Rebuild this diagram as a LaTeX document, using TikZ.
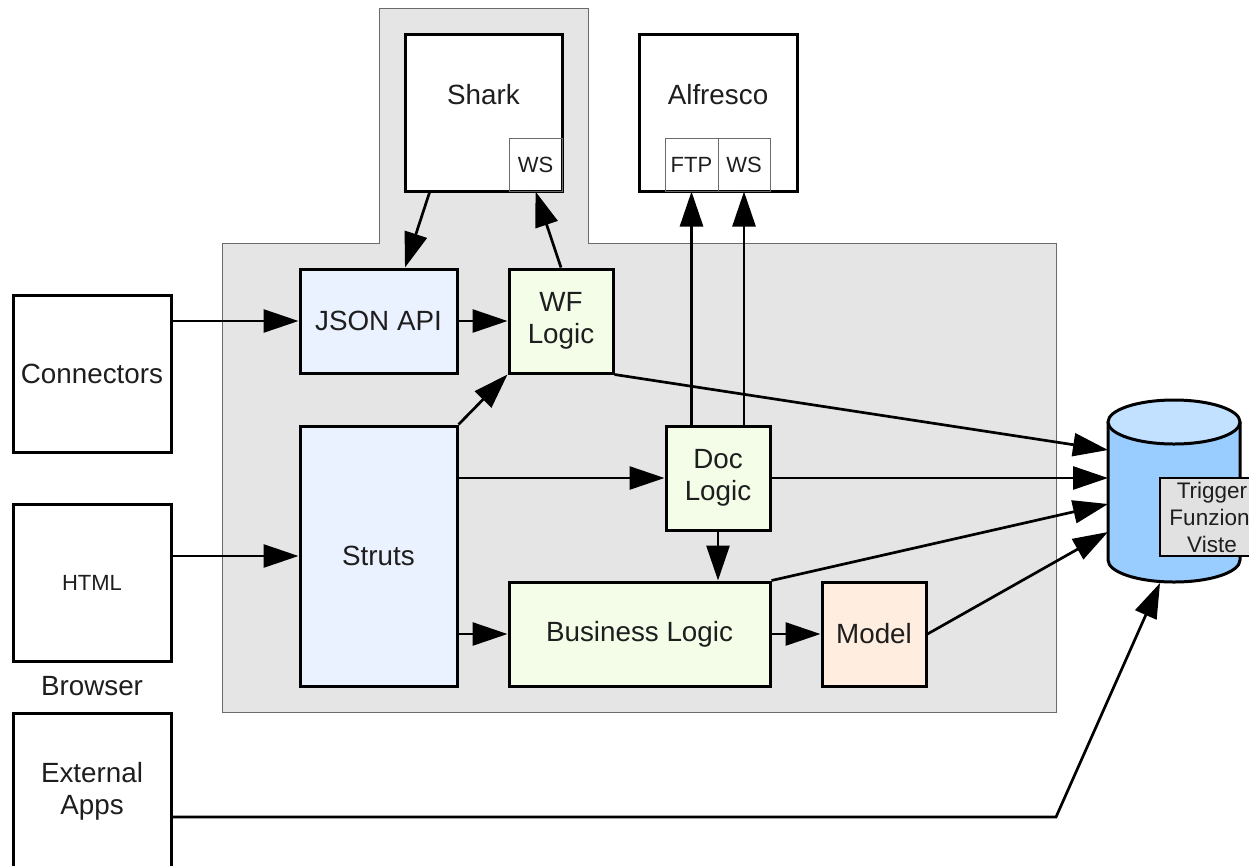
\documentclass[tikz,border=0pt]{standalone}
\usepackage{fontspec}
\setmainfont{Liberation Sans}
\usetikzlibrary{arrows.meta,calc}
\definecolor{txt}{HTML}{1E1E1E}
\definecolor{regionfill}{HTML}{E5E5E5}
\definecolor{regiondraw}{HTML}{6B6B6B}
\definecolor{bluefill}{HTML}{EBF2FF}
\definecolor{greenfill}{HTML}{F3FDE8}
\definecolor{peachfill}{HTML}{FFEDE0}
\definecolor{dbbody}{HTML}{99CCFF}
\definecolor{dbtop}{HTML}{C2E0FF}
\definecolor{trigfill}{HTML}{E1E1E1}
\definecolor{subdraw}{HTML}{6B6B6B}
\tikzset{
  box/.style={draw=black, line width=3pt, inner sep=0pt, align=center, text=txt,
    font=\fontsize{27.8}{32}\selectfont},
  smallbox/.style={box, font=\fontsize{22}{26}\selectfont},
  subbox/.style={draw=subdraw, line width=1pt, inner sep=0pt, text=txt,
    font=\fontsize{22}{26}\selectfont},
  lbl/.style={inner sep=0pt, text=txt, align=center, font=\fontsize{27.8}{32}\selectfont},
  arr/.style={line width=2.7pt, -{Triangle[length=35pt,width=23pt]}},
  trigbox/.style={draw=black, line width=2pt, fill=trigfill, inner sep=0pt, align=center,
    text=txt, font=\fontsize{22.5}{27}\selectfont}
}
\begin{document}
\begin{tikzpicture}[x=1pt,y=-1pt]
\useasboundingbox[fill=white] (0,0) rectangle (1249,865);

% gray container region
\filldraw[fill=regionfill, draw=regiondraw, line width=1pt]
  (222,243) -- (379,243) -- (379,8) -- (588,8) -- (588,243) -- (1056,243)
  -- (1056,712) -- (222,712) -- cycle;

% left boxes
\node[box, fill=white, minimum width=158pt, minimum height=157pt] (conn) at (92,373.5) {Connectors};
\node[smallbox, fill=white, minimum width=158pt, minimum height=157pt] (html) at (92,582.5) {HTML};
\node[lbl] (browser) at (92,686) {Browser};
\node[box, fill=white, minimum width=158pt, minimum height=156pt] (ext) at (92,791) {External\\Apps};

% Shark
\node[box, fill=white, minimum width=157pt, minimum height=157pt] (shark) at (483.5,112.5) {};
\node[lbl] (sharklbl) at (483.5,95) {Shark};
\node[subbox, minimum width=53pt, minimum height=53pt] (shws) at (535.5,164.5) {WS};

% Alfresco
\node[box, fill=white, minimum width=158pt, minimum height=157pt] (alf) at (718,112.5) {};
\node[lbl] (alflbl) at (718,95) {Alfresco};
\node[subbox, minimum width=53pt, minimum height=53pt] (ftp) at (691.5,164.5) {FTP};
\node[subbox, minimum width=52pt, minimum height=53pt] (alws) at (744,164.5) {WS};

% inner boxes
\node[box, fill=bluefill, minimum width=157pt, minimum height=104pt] (json) at (378.5,321) {JSON API};
\node[box, fill=greenfill, minimum width=104pt, minimum height=104pt] (wf) at (561,321) {WF\\Logic};
\node[box, fill=bluefill, minimum width=157pt, minimum height=260pt] (struts) at (378.5,556) {Struts};
\node[box, fill=greenfill, minimum width=104pt, minimum height=104pt] (doc) at (718,478) {Doc\\Logic};
\node[box, fill=greenfill, minimum width=261pt, minimum height=104pt] (biz) at (639.5,634) {Business Logic};
\node[box, fill=peachfill, minimum width=104pt, minimum height=104pt] (model) at (874,634) {Model};

% database cylinder
\path[fill=dbbody] (1108,422) -- (1108,560) arc[start angle=180,end angle=0,x radius=66,y radius=22] -- (1240,422) -- cycle;
\draw[line width=3pt] (1108,422) -- (1108,560) arc[start angle=180,end angle=0,x radius=66,y radius=22] -- (1240,422);
\draw[line width=3pt, fill=dbtop] (1174,422) ellipse[x radius=66,y radius=22];
\node[trigbox, minimum width=104pt, minimum height=78pt] (trig) at (1212,517) {Trigger\\Funzioni\\Viste};

\coordinate (dbwf) at (1108,450);
\coordinate (dbdoc) at (1108,478);
\coordinate (dbbiz) at (1108,504);
\coordinate (dbmod) at (1108,532);
\coordinate (dbext) at (1160,583);
\coordinate (bend) at (1056,817);

% connectors
\draw[arr] (conn.east |- json.west) -- (json.west);
\draw[arr] (html.east |- struts.west) -- (struts.west);
\draw[arr] (json.east) -- (wf.west);
\draw[arr] ($(shark.south west)+(26,0)$) -- ($(json.north)+(26.5,0)$);
\draw[arr] (wf.north) -- (shws.south);
\draw[arr] (ftp.south |- doc.north) -- (ftp.south);
\draw[arr] (alws.south |- doc.north) -- (alws.south);
\draw[arr] (struts.north east) -- (wf.south west);
\draw[arr] (struts.east |- doc.west) -- (doc.west);
\draw[arr] (struts.east |- biz.west) -- (biz.west);
\draw[arr] (doc.south) -- (doc.south |- biz.north);
\draw[arr] (biz.east) -- (model.west);
\draw[arr] (wf.south east) -- (dbwf);
\draw[arr] (doc.east) -- (dbdoc);
\draw[arr] (biz.north east) -- (dbbiz);
\draw[arr] (model.east) -- (dbmod);
\draw[arr] (ext.east |- bend) -- (bend) -- (dbext);
\end{tikzpicture}
\end{document}
